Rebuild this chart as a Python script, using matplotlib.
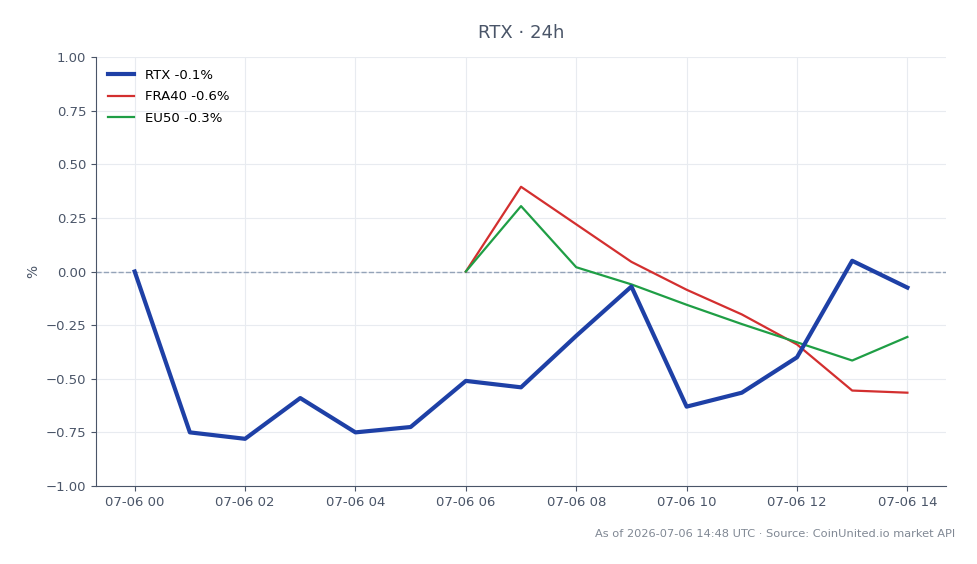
import numpy as np
import pandas as pd
import matplotlib
matplotlib.use('Agg')
import matplotlib.pyplot as plt
import matplotlib.dates as mdates

hours = pd.date_range('2026-07-06 00:00', periods=15, freq='h')
rtx = [0.00, -0.75, -0.78, -0.59, -0.75, -0.725, -0.51, -0.54, -0.30, -0.07, -0.63, -0.565, -0.40, 0.05, -0.075]
idx_hours = hours[6:]
fra40 = [0.0, 0.395, 0.22, 0.045, -0.085, -0.20, -0.34, -0.555, -0.565]
eu50 = [0.0, 0.305, 0.02, -0.06, -0.155, -0.245, -0.33, -0.415, -0.305]

text_col = '#4a5568'
fig = plt.figure(figsize=(9.78, 5.64), dpi=100)
ax = fig.add_axes([0.0982, 0.1383, 0.8691, 0.7606])

ax.plot(hours, rtx, color='#1e40a6', lw=3, label='RTX -0.1%', zorder=4)
ax.plot(idx_hours, fra40, color='#d32f2f', lw=1.6, label='FRA40 -0.6%', zorder=3)
ax.plot(idx_hours, eu50, color='#1f9e45', lw=1.6, label='EU50 -0.3%', zorder=3)
ax.axhline(0, color='#94a3b8', lw=1, ls='--', zorder=2)

ax.set_ylim(-1, 1)
ax.set_yticks(np.arange(-1, 1.01, 0.25))
ax.yaxis.set_major_formatter(matplotlib.ticker.FuncFormatter(lambda v, p: f'{v:.2f}'.replace('-', '\u2212')))
ax.xaxis.set_major_locator(mdates.HourLocator(byhour=range(0, 24, 2)))
ax.xaxis.set_major_formatter(mdates.DateFormatter('%m-%d %H'))

ax.grid(True, color='#e8ebf0', lw=0.8)
ax.set_axisbelow(True)
for s in ['top', 'right']:
    ax.spines[s].set_visible(False)
for s in ['left', 'bottom']:
    ax.spines[s].set_color('#4a5568')
ax.tick_params(colors=text_col, labelsize=9.5)
ax.set_ylabel('%', color=text_col, fontsize=10)

ax.set_title('RTX · 24h', color=text_col, fontsize=13, pad=14)
ax.legend(loc='upper left', frameon=False, fontsize=9.5, labelspacing=0.65)
fig.text(0.977, 0.044, 'As of 2026-07-06 14:48 UTC · Source: CoinUnited.io market API',
         ha='right', va='bottom', color='#808894', fontsize=8.2)

fig.savefig('out.png', dpi=100)
